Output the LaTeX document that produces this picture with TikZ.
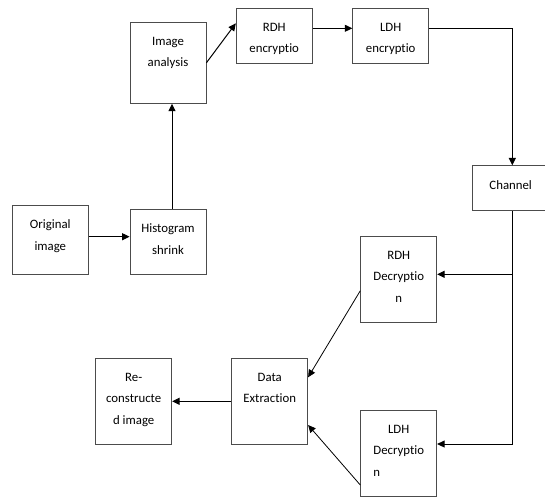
\documentclass[tikz,border=0pt]{standalone}
\usepackage{fontspec}
\setmainfont{Carlito}[Ligatures=NoCommon]
\usetikzlibrary{arrows.meta}
\begin{document}
\begin{tikzpicture}[x=1pt,y=-1pt,
    blk/.style={draw=black!70,line width=0.8pt,minimum width=76pt,inner sep=0pt},
    lbl/.style={anchor=north,align=center,inner sep=0pt,font=\fontsize{12.8}{21.5}\selectfont},
    arr/.style={line width=1pt,-{Triangle[length=7.5pt,width=7pt]}}]
  \useasboundingbox (0,0) rectangle (545,496);
  % boxes: name/x/y/height/text
  \foreach \nm/\cx/\cy/\h/\txt in {
      orig/50.3/239.5/69/{Original\\image},
      hist/168/241.5/65/{Histogram\\shrink},
      ana/168/62.8/81/{Image\\analysis},
      rdhe/274.2/35.8/55/{RDH\\encryptio},
      ldhe/390.7/35.8/55/{LDH\\encryptio},
      chan/510.7/188.3/45/{Channel},
      rdhd/398.7/279.2/86/{RDH\\Decryptio\\n},
      ldhd/398.7/453/86/{LDH\\Decryptio\\\rlap{n}\phantom{Decryptio}},
      ext/269.7/401.3/86/{Data\\Extraction},
      rec/133.7/401.3/86/{Re-\\constructe\\d image}}{
    \node[blk,minimum height=\h] (\nm) at (\cx,\cy) {};
    \node[lbl] (\nm-l) at ([yshift=-15pt]\nm.north) {\txt};
  }
  % forward path
  \draw[arr] ([yshift=2.8pt]orig.east) -- ([yshift=2.8pt]orig.east -| hist.west);
  \draw[arr] ([xshift=4pt]hist.north) -- ([xshift=4pt]ana.south);
  \draw[arr] (ana.east) -- ([yshift=12.5pt]rdhe.west);
  \draw[arr] ([yshift=7.5pt]rdhe.east) -- ([yshift=7.5pt]ldhe.west);
  \draw[arr] ([yshift=7.5pt]ldhe.east) -| ([xshift=1.6pt]chan.north);
  % receiver side
  \coordinate (tap) at ([xshift=1.6pt]chan.south);
  \coordinate (rin) at ([yshift=4.9pt]rdhd.east);
  \coordinate (lin) at ([yshift=9pt]ldhd.east);
  \draw[arr] (tap) |- (lin);
  \draw[arr] (tap |- rin) -- (rin);
  \draw[arr,line width=0.8pt] ([yshift=-11.5pt]rdhd.west) -- ([yshift=24pt]ext.east);
  \draw[arr,line width=0.8pt] ([yshift=-32pt]ldhd.west) -- ([yshift=-23.7pt]ext.east);
  \draw[arr] (ext.west) -- (rec.east);
\end{tikzpicture}
\end{document}
